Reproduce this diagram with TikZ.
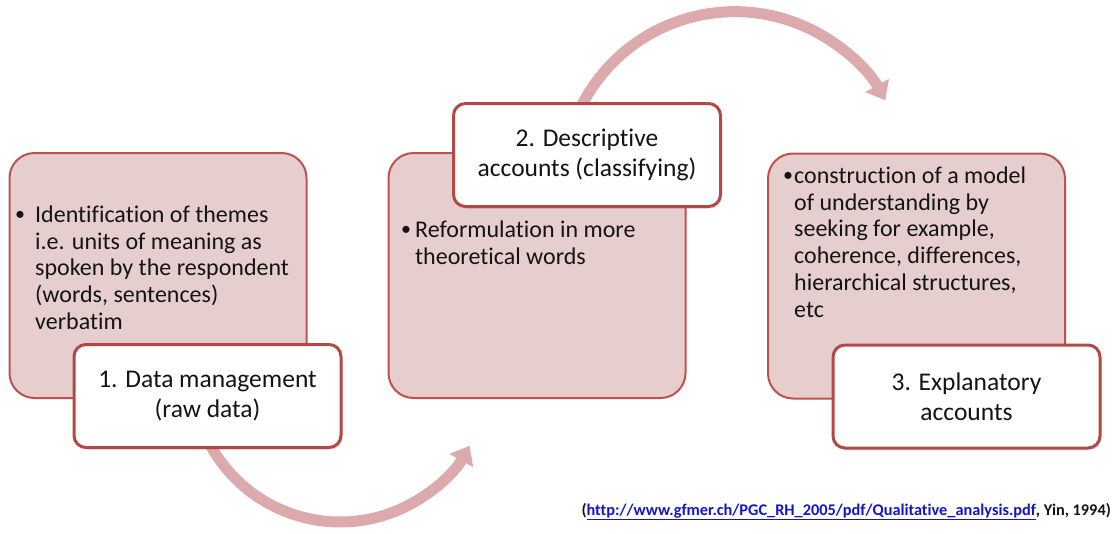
\documentclass[tikz,border=0pt]{standalone}
\usepackage{fontspec}
\setmainfont{Carlito}[Ligatures=NoCommon]
\usetikzlibrary{arrows.meta,shadows}
\definecolor{boxfill}{RGB}{231,206,206}
\definecolor{boxline}{RGB}{192,80,77}
\definecolor{tagline}{RGB}{180,72,70}
\definecolor{flowpink}{RGB}{220,170,172}
\definecolor{linkblue}{RGB}{20,20,205}
\definecolor{ink}{RGB}{20,20,20}
% fixed first-line height so that text blocks can be placed by their top edge
\newcommand{\firstline}{\rule{0pt}{18pt}}
\begin{document}
\begin{tikzpicture}[x=1pt,y=-1pt,
  stage/.style={draw=boxline, line width=2pt, fill=boxfill, rounded corners=25pt,
    minimum width=297pt, minimum height=245pt, inner sep=0pt},
  tag/.style={draw=tagline, line width=3pt, fill=white, rounded corners=12pt,
    minimum width=267pt, minimum height=103pt, align=center, text=ink,
    font=\fontsize{25.5}{30}\selectfont,
    drop shadow={opacity=0.25, shadow xshift=1.5pt, shadow yshift=-2pt}},
  flow/.style={draw=flowpink, line width=11pt, -{Triangle[length=17pt,width=26pt]}},
  bodytext/.style={anchor=north west, inner sep=0pt, align=left, text=ink,
    font=\fontsize{24}{26.8}\selectfont},
  dot/.style={anchor=base west, inner sep=0pt, text=ink, font=\fontsize{20}{24}\selectfont}]
\useasboundingbox (0,0) rectangle (1113,533);

% curved flow arrows between the stages
\coordinate (f1) at (206,436.5);
\coordinate (f2) at (579,111);
\draw[flow] (f1) arc[start angle=155, end angle=29, radius=148];
\draw[flow] (f2) arc[start angle=-155, end angle=-29, radius=172];

% stage panels
\node[stage] (s1) at (158,275.5) {};
\node[stage] (s2) at (537,275.5) {};
\node[stage] (s3) at (916.5,276) {};

% panel contents (baselines of first lines at 222, 237 and 183)
\node[dot] (d1) at (15,220) {\textbullet};
\node[bodytext] (t1) at (35,204) {\firstline Identification of themes\\i.e. units of meaning as\\spoken by the respondent\\(words, sentences)\\verbatim};
\node[dot] (d2) at (401,235) {\textbullet};
\node[bodytext] (t2) at (415,219) {\firstline Reformulation in more\\theoretical words};
\node[dot] (d3) at (783,181) {\textbullet};
\node[bodytext] (t3) at (794,165) {\firstline construction of a model\\of understanding by\\seeking for example,\\coherence, differences,\\hierarchical structures,\\etc};

% stage titles
\node[tag] (g1) at (207.5,396) {1. Data management\\(raw data)};
\node[tag] (g2) at (587,155) {2. Descriptive\\accounts (classifying)};
\node[tag] (g3) at (966.5,396.5) {3. Explanatory\\accounts};

% source line
\node[anchor=base east, inner sep=0pt, text=ink, font=\bfseries\fontsize{16.3}{19}\selectfont] (src) at (1111,515)
  {(\textcolor{linkblue}{\underline{http://www.gfmer.ch/PGC\_RH\_2005/pdf/Qualitative\_analysis.pdf}}, Yin, 1994)};
\end{tikzpicture}
\end{document}
